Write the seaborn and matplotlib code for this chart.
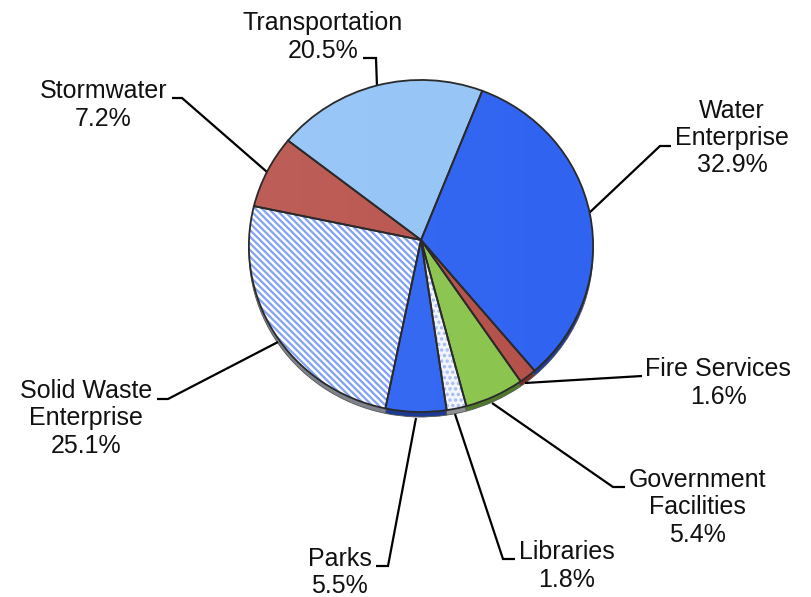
import numpy as np
import matplotlib
matplotlib.use("Agg")
import matplotlib.pyplot as plt
from matplotlib.patches import Circle
from matplotlib.path import Path
from matplotlib.transforms import Transform
import seaborn as sns

# Budget shares, clockwise from the Water Enterprise slice
categories = ["Water\nEnterprise", "Fire Services", "Government\nFacilities", "Libraries",
              "Parks", "Solid Waste\nEnterprise", "Stormwater", "Transportation"]
shares = [32.9, 1.6, 5.4, 1.8, 5.5, 25.1, 7.2, 20.5]
face_colors = ["#2f63f0", "#b5504a", "#8bc44e", "#f1f4fb",
               "#3065f2", "#ffffff", "#b9554e", "#94c4f6"]
rim_colors = ["#1d3c94", "#7c2c28", "#4f7a2c", "#8e9094",
              "#1b3a90", "#7d828c", "#7c2c28", "#5f86b0"]
hatches = [None, None, None, "...", None, "\\\\\\\\\\", None, None]
hatch_colors = ["none", "none", "none", "#a3b8f2", "none", "#7c9ef2", "none", "none"]

# Label block centres and leader-line routes, in figure pixels
label_x = [732, 718, 697, 567, 339.5, 86, 103.5, 323]
label_y = [138, 383, 507.5, 566, 572.5, 418.5, 105, 37]
leader_x = [[671, 660, 588], [642, 525], [625, 613, 492], [515, 503, 455],
            [376, 388, 416], [157, 168, 278], [172, 182, 267], [363, 376, 377]]
leader_y = [[146, 146, 214], [376, 383], [487, 487, 403], [559, 559, 414],
            [566, 566, 418], [399, 399, 342], [98, 98, 172], [58, 58, 87]]

START_ANGLE = 68.4
CENTER_X, CENTER_Y = 421.0, 240.0
RADIUS_X, RADIUS_Y, TILT = 172.0, 165.8, 0.036
RIM_DX, RIM_DY = 0.0, 5.0


class TiltedDisc(Transform):
    """Projective map from the unit pie disc to pixel space, so the near edge looks larger."""
    input_dims = output_dims = 2
    is_affine = False
    has_inverse = False

    def __init__(self, dx=0.0, dy=0.0):
        super().__init__()
        self.dx, self.dy = dx, dy

    def transform_non_affine(self, values):
        values = np.asarray(values, dtype=float)
        w = 1.0 + TILT * values[:, 1]
        return np.column_stack([
            CENTER_X + self.dx + RADIUS_X * values[:, 0] / w,
            CENTER_Y + self.dy - RADIUS_Y * values[:, 1] / w,
        ])

    def transform_path_non_affine(self, path):
        return Path(self.transform_non_affine(path.vertices), path.codes)


sns.set_theme(style="white")
plt.rcParams["font.family"] = ["Liberation Sans", "DejaVu Sans"]
plt.rcParams["hatch.linewidth"] = 1.6

fig = plt.figure(figsize=(8.11, 5.97), dpi=100)
ax = fig.add_axes([0, 0, 1, 1])


def draw_pie(colors, transform, **wedge_style):
    wedges, _ = ax.pie(shares, colors=colors, startangle=START_ANGLE, counterclock=False,
                       wedgeprops=wedge_style)
    for wedge in wedges:
        wedge.set_transform(transform + ax.transData)
    return wedges


# Extruded rim, then the flat faces, then the slice outlines on top
rim = draw_pie(sns.color_palette(rim_colors), TiltedDisc(RIM_DX, RIM_DY),
               linewidth=0.6, edgecolor="#555555", zorder=1)
faces = draw_pie(sns.color_palette(face_colors), TiltedDisc(), linewidth=0, zorder=2)
for wedge, hatch, color in zip(faces, hatches, hatch_colors):
    if hatch:
        wedge.set_hatch(hatch)
        wedge.set_edgecolor(color)

# Faint left-to-right sheen across the disc
sheen = np.zeros((2, 256, 4))
sheen[..., :3] = 1.0
sheen[..., 3] = np.linspace(0.06, 0.0, 256)
image = ax.imshow(sheen, extent=(249, 593, 412, 80), aspect="auto", zorder=3)
clip = Circle((0, 0), 1.0, transform=TiltedDisc() + ax.transData)
image.set_clip_path(clip)

draw_pie(["none"] * len(shares), TiltedDisc(), linewidth=1.3, edgecolor="#2a2a2a",
         facecolor="none", zorder=4)

for name, share, x, y, xs, ys in zip(categories, shares, label_x, label_y, leader_x, leader_y):
    ax.plot(xs, ys, color="black", linewidth=1.6, solid_joinstyle="miter",
            solid_capstyle="butt", zorder=1.5)
    ax.text(x, y, f"{name}\n{share:.1f}%", ha="center", va="center", fontsize=18,
            linespacing=1.18, color="#111111", zorder=5)

ax.set_aspect("auto")
ax.set_xlim(0, 811)
ax.set_ylim(597, 0)
ax.set_axis_off()

fig.savefig("out.png", dpi=100)
